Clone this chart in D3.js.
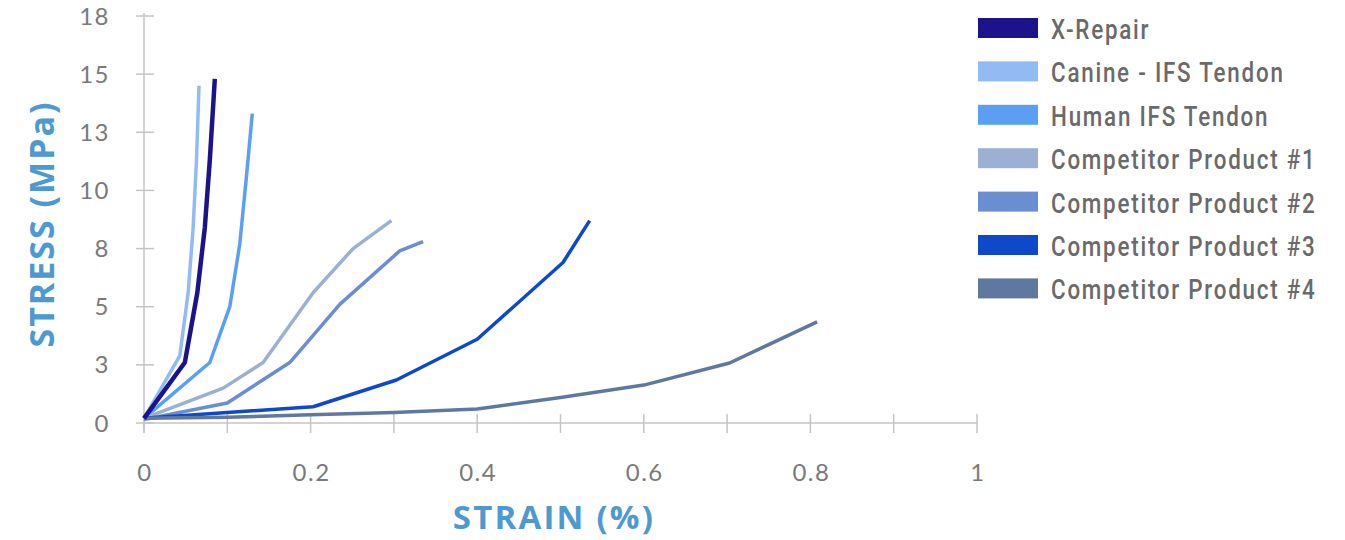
<!DOCTYPE html>
<html>
<head>
<meta charset="utf-8">
<script src="https://cdn.jsdelivr.net/npm/d3@7/dist/d3.min.js"></script>
<style>
  html, body { margin: 0; padding: 0; background: #ffffff; }
  svg { display: block; }
</style>
</head>
<body>
<svg id="chart" width="1345" height="540"></svg>
<script>
// Stress–strain curves, [strain, stress] pairs
const xRepair      = [[0, 0.2], [0.049, 2.6], [0.064, 5.6], [0.073, 8.4], [0.079, 11.3], [0.085, 14.8]];
const canine       = [[0, 0.2], [0.043, 2.9], [0.053, 5.6], [0.059, 8.4], [0.063, 11.3], [0.065, 13.4], [0.066, 14.5]];
const human        = [[0, 0.2], [0.079, 2.6], [0.103, 5.0], [0.115, 7.7], [0.123, 10.6], [0.13, 13.3]];
const competitor1  = [[0, 0.2], [0.095, 1.5], [0.143, 2.6], [0.203, 5.6], [0.251, 7.5], [0.297, 8.7]];
const competitor2  = [[0, 0.15], [0.1, 0.86], [0.175, 2.6], [0.235, 5.1], [0.307, 7.4], [0.335, 7.8]];
const competitor3  = [[0, 0.2], [0.1, 0.45], [0.203, 0.7], [0.303, 1.85], [0.4, 3.6], [0.503, 6.9], [0.535, 8.7]];
const competitor4  = [[0, 0.2], [0.1, 0.25], [0.2, 0.35], [0.3, 0.45], [0.4, 0.6], [0.5, 1.1], [0.6, 1.63], [0.703, 2.58], [0.808, 4.35]];

const seriesNames  = ["X-Repair", "Canine - IFS Tendon", "Human IFS Tendon",
                      "Competitor Product #1", "Competitor Product #2",
                      "Competitor Product #3", "Competitor Product #4"];
const seriesData   = [xRepair, canine, human, competitor1, competitor2, competitor3, competitor4];
const seriesColors = ["#1b138c", "#92bbf3", "#5b9ff2", "#9bb0d3", "#6a8ecf", "#0f48c9", "#5f789f"];

const xTicks = [0, 0.2, 0.4, 0.6, 0.8, 1];
const xMinorTicks = [0, 0.1, 0.2, 0.3, 0.4, 0.5, 0.6, 0.7, 0.8, 0.9, 1];
const yTicks = [0, 2.5, 5, 7.5, 10, 12.5, 15, 17.5];

const svg = d3.select("#chart");
const plotLeft = 144, plotRight = 977, plotTop = 16, plotBottom = 423;

const x = d3.scaleLinear().domain([0, 1]).range([plotLeft, plotRight]);
const y = d3.scaleLinear().domain([0, 17.5]).range([plotBottom, plotTop]);

const axisColor = "#c4c4c4";
const labelColor = "#7a7a7a";
const titleColor = "#4c9ad0";

// Axis lines
svg.append("line").attr("x1", x(0)).attr("x2", x(1)).attr("y1", y(0)).attr("y2", y(0))
  .attr("stroke", axisColor).attr("stroke-width", 1.5);
svg.append("line").attr("x1", x(0)).attr("x2", x(0)).attr("y1", y(17.5) - 3).attr("y2", y(0) + 8)
  .attr("stroke", axisColor).attr("stroke-width", 1.5);

// X ticks (cross the axis line)
svg.append("g").selectAll("line").data(xMinorTicks).join("line")
  .attr("x1", d => x(d)).attr("x2", d => x(d))
  .attr("y1", y(0) - 9).attr("y2", y(0) + 10)
  .attr("stroke", axisColor).attr("stroke-width", 1.5);

// Y ticks
svg.append("g").selectAll("line").data(yTicks).join("line")
  .attr("x1", x(0) - 8).attr("x2", x(0) + 10)
  .attr("y1", d => y(d)).attr("y2", d => y(d))
  .attr("stroke", axisColor).attr("stroke-width", 1.5);

// Tick labels
svg.append("g").selectAll("text").data(xTicks).join("text")
  .attr("x", d => x(d) + 1).attr("y", 481)
  .attr("text-anchor", "middle")
  .attr("font-family", "Lato, 'Open Sans', sans-serif")
  .attr("font-size", 24).attr("letter-spacing", 1.5)
  .attr("fill", labelColor)
  .text(d => d3.format("~g")(d));

svg.append("g").selectAll("text").data(yTicks).join("text")
  .attr("x", 110).attr("y", d => y(d)).attr("dy", "0.36em")
  .attr("text-anchor", "end")
  .attr("font-family", "Lato, 'Open Sans', sans-serif")
  .attr("font-size", 24).attr("letter-spacing", 1.5)
  .attr("fill", labelColor)
  .text(d => Math.round(d));

// Axis titles
svg.append("text")
  .attr("x", 554).attr("y", 529)
  .attr("text-anchor", "middle")
  .attr("font-family", "'Open Sans', sans-serif")
  .attr("font-weight", 700).attr("font-size", 33).attr("letter-spacing", 2.2)
  .attr("fill", titleColor)
  .text("STRAIN (%)");

svg.append("text")
  .attr("transform", "translate(54,224) rotate(-90)")
  .attr("text-anchor", "middle")
  .attr("font-family", "'Open Sans', sans-serif")
  .attr("font-weight", 700).attr("font-size", 34).attr("letter-spacing", 2)
  .attr("fill", titleColor)
  .text("STRESS (MPa)");

// Curves
const line = d3.line().x(d => x(d[0])).y(d => y(d[1]));
const drawOrder = [1, 2, 3, 4, 5, 6, 0];
svg.append("g").selectAll("path").data(drawOrder).join("path")
  .attr("d", i => line(seriesData[i]))
  .attr("fill", "none")
  .attr("stroke", i => seriesColors[i])
  .attr("stroke-width", i => i === 0 ? 4.5 : 3.5)
  .attr("stroke-linejoin", "round")
  .attr("stroke-linecap", "butt");

// Legend
const legend = svg.append("g").attr("transform", "translate(978,18)");
const rows = legend.selectAll("g").data(seriesNames).join("g")
  .attr("transform", (d, i) => `translate(0,${i * 43.4})`);
rows.append("rect").attr("width", 60).attr("height", 20)
  .attr("fill", (d, i) => seriesColors[i]);
rows.append("text")
  .attr("transform", "translate(73,21) scale(0.8,1)")
  .attr("font-family", "'Roboto', 'Liberation Sans', sans-serif")
  .attr("font-size", 28).attr("font-weight", 500).attr("letter-spacing", 2.2)
  .attr("fill", "#6a6a6a")
  .text(d => d);
</script>
</body>
</html>
